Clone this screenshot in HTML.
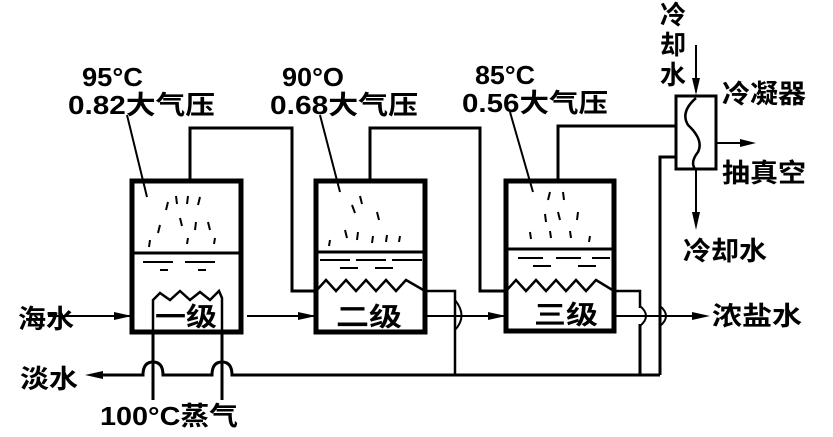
<!DOCTYPE html>
<html><head><meta charset="utf-8"><style>
body{margin:0;background:#fff}
svg text{font-family:"Liberation Sans","Noto Sans CJK SC",sans-serif;font-weight:bold;fill:#000}
</style></head><body>
<svg width="833" height="432" viewBox="0 0 833 432" xmlns="http://www.w3.org/2000/svg">
<g fill="none" stroke="#000" stroke-width="3">
<rect x="132" y="181" width="109" height="151" stroke-width="5"/>
<rect x="316" y="181" width="109" height="151" stroke-width="5"/>
<rect x="506" y="181" width="108" height="150" stroke-width="5"/>
<line x1="132" y1="253" x2="241" y2="253"/>
<line x1="316" y1="252" x2="425" y2="252"/>
<line x1="506" y1="249" x2="614" y2="249"/>
<polyline points="190,181 190,128 292,128 292,291 316,291"/>
<polyline points="370,181 370,128 480,128 480,291 506,291"/>
<polyline points="558,181 558,126 668,126"/>
<line x1="660" y1="126" x2="676" y2="126"/>
<rect x="676" y="96" width="40" height="73"/>
<path d="M696 98 Q680 112 688 125 Q704 140 698 152 Q690 162 695 169" stroke-width="2.5"/>
<line x1="696" y1="45" x2="696" y2="92" stroke-width="2"/>
<line x1="696" y1="169" x2="696" y2="215" stroke-width="2"/>
<line x1="716" y1="143" x2="748" y2="143" stroke-width="2"/>
<polyline points="676,157 660,157 660,375"/>
<polyline points="153,332 153,300 160,293 170,300 180,291 190,300 200,292 210,300 219,291 222,298 222,332" stroke-width="2.5"/>
<polyline points="316,291 326,280 336,291 346,280 356,291 366,280 376,291 386,280 396,291 406,280 425,291 455,291 455,375" stroke-width="2.5"/>
<polyline points="506,291 516,280 526,291 536,280 546,291 556,280 566,291 576,280 586,291 596,280 614,291 640,291 640,308" stroke-width="2.5"/>
<line x1="640" y1="324" x2="640" y2="375"/>
<line x1="153" y1="332" x2="153" y2="400"/>
<line x1="222" y1="332" x2="222" y2="400"/>
<path d="M95 375 L143 375 Q143 362 153 362 Q163 362 163 375 L212 375 Q212 362 222 362 Q232 362 232 375 L660 375"/>
<line x1="48" y1="316" x2="132" y2="316" stroke-width="2"/>
<line x1="247" y1="316" x2="316" y2="316" stroke-width="2"/>
<path d="M425 316 L506 316" stroke-width="2"/>
<path d="M455 300 Q468 316 455 330" stroke-width="2"/>
<path d="M614 316 L700 316" stroke-width="2"/>
<path d="M640 306 Q652 316 640 326" stroke-width="2"/>
<path d="M660 306 Q672 316 660 326" stroke-width="2"/>
<line x1="127" y1="115" x2="147" y2="197" stroke-width="2"/>
<line x1="320" y1="115" x2="340" y2="192" stroke-width="2"/>
<line x1="510" y1="112" x2="533" y2="192" stroke-width="2"/>
</g>
<g fill="#000">
<polygon points="132,316 114,312 114,320"/>
<polygon points="316,316 298,312 298,320"/>
<polygon points="506,316 488,312 488,320"/>
<polygon points="710,316 692,312 692,320"/>
<polygon points="85,375 103,371 103,379"/>
<polygon points="696,95 692,78 700,78"/>
<polygon points="696,230 692,212 700,212"/>
<polygon points="756,143 740,139 740,147"/>
</g>
<g stroke="#000" stroke-width="2" fill="none">
<path d="M168 202 l-2 8 M176 196 l1 8 M188 196 l-1 8 M200 197 l-2 8 M160 225 l-2 8 M180 218 l2 8 M196 222 l-1 8 M208 222 l2 8 M150 240 l-1 7 M188 238 l-1 6 M215 238 l-1 6"/>
<path d="M143 262 h30 M185 262 h30 M160 270 h8 M198 270 h8"/>
<path d="M352 205 l3 8 M360 196 l2 8 M377 212 l2 8 M330 240 l-1 6 M345 230 l2 8 M358 232 l-1 8 M373 236 l-1 7 M387 235 l-1 7 M400 236 l-1 6"/>
<path d="M320 260 h30 M356 260 h30 M392 260 h30 M340 268 h18 M375 268 h18"/>
<path d="M550 192 l-2 8 M563 192 l1 8 M545 214 l1 8 M558 212 l2 8 M578 212 l-1 8 M530 232 l1 7 M550 231 l1 7 M570 231 l1 7 M590 236 l-1 6"/>
<path d="M518 258 h25 M556 258 h25 M592 258 h18 M533 266 h18 M578 266 h18"/>
</g>
<g font-size="26">
<text x="82" y="86" textLength="61" lengthAdjust="spacingAndGlyphs">95°C</text>
<text x="68" y="114" textLength="147" lengthAdjust="spacingAndGlyphs">0.82大气压</text>
<text x="282" y="86" textLength="62" lengthAdjust="spacingAndGlyphs">90°O</text>
<text x="270" y="114" textLength="148" lengthAdjust="spacingAndGlyphs">0.68大气压</text>
<text x="475" y="84" textLength="60" lengthAdjust="spacingAndGlyphs">85°C</text>
<text x="462" y="112" textLength="146" lengthAdjust="spacingAndGlyphs">0.56大气压</text>
<text x="155" y="326" textLength="62" lengthAdjust="spacingAndGlyphs">一级</text>
<text x="336" y="326" textLength="66" lengthAdjust="spacingAndGlyphs">二级</text>
<text x="534" y="324" textLength="64" lengthAdjust="spacingAndGlyphs">三级</text>
<text x="18" y="328" textLength="56" lengthAdjust="spacingAndGlyphs">海水</text>
<text x="20" y="388" textLength="58" lengthAdjust="spacingAndGlyphs">淡水</text>
<text x="100" y="425" font-weight="normal" textLength="138" lengthAdjust="spacingAndGlyphs">100°C蒸气</text>
<text x="712" y="325" textLength="90" lengthAdjust="spacingAndGlyphs">浓盐水</text>
<text x="722" y="103" textLength="84" lengthAdjust="spacingAndGlyphs">冷凝器</text>
<text x="722" y="182" textLength="84" lengthAdjust="spacingAndGlyphs">抽真空</text>
<text x="683" y="260" textLength="84" lengthAdjust="spacingAndGlyphs">冷却水</text>
<text x="660" y="24">冷</text>
<text x="660" y="54">却</text>
<text x="660" y="84">水</text>
</g>
</svg>
</body></html>
